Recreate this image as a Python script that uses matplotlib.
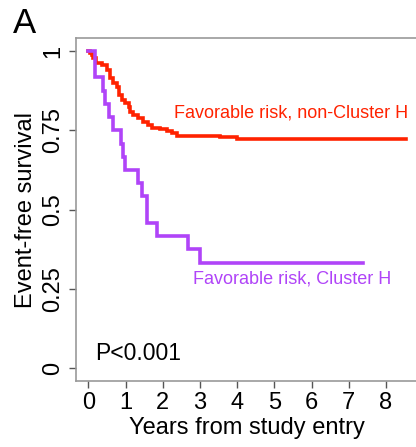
import matplotlib
matplotlib.use('Agg')
import matplotlib.pyplot as plt

FSIZE = 17

# Kaplan-Meier curves (step, post)
t_other = [0, 0.05, 0.09, 0.13, 0.21, 0.36, 0.49, 0.58, 0.67, 0.76, 0.83, 0.90, 0.99,
           1.08, 1.12, 1.21, 1.34, 1.48, 1.61, 1.70, 1.93, 2.11, 2.24, 2.38, 3.54, 3.99, 8.55]
s_other = [1.0, 0.993, 0.987, 0.977, 0.963, 0.956, 0.940, 0.914, 0.900, 0.887, 0.861, 0.846, 0.837,
           0.823, 0.809, 0.798, 0.788, 0.777, 0.767, 0.756, 0.753, 0.748, 0.741, 0.732, 0.728, 0.723, 0.723]

t_clusterh = [0, 0.18, 0.40, 0.45, 0.56, 0.67, 0.88, 0.94, 0.99, 1.34, 1.44, 1.57, 1.84, 2.69, 3.00, 7.39]
s_clusterh = [1.0, 0.917, 0.875, 0.833, 0.792, 0.75, 0.708, 0.667, 0.625, 0.583, 0.542, 0.458,
              0.417, 0.375, 0.333, 0.333]

xticks = [0, 1, 2, 3, 4, 5, 6, 7, 8]
yticks = [0, 0.25, 0.5, 0.75, 1]
ytick_labels = ['0', '0.25', '0.5', '0.75', '1']

RED = '#ff2200'
PURPLE = '#b044f8'

plt.rc('font', family=['Liberation Sans', 'DejaVu Sans'])

fig = plt.figure(figsize=(4.16, 4.47), dpi=100)
ax = fig.add_axes([0.182, 0.1477, 0.821, 0.7666])

ax.step(t_other, s_other, where='post', color=RED, lw=2.6, solid_joinstyle='miter')
ax.step(t_clusterh, s_clusterh, where='post', color=PURPLE, lw=2.6, solid_joinstyle='miter')

ax.text(2.30, 0.805, 'Favorable risk, non-Cluster H', color=RED, fontsize=13, va='center', ha='left')
ax.text(2.81, 0.281, 'Favorable risk, Cluster H', color=PURPLE, fontsize=13, va='center', ha='left')
ax.text(0.18, 0.048, 'P<0.001', color='black', fontsize=16.5, va='center', ha='left')

ax.set_xlim(-0.34, 8.84)
ax.set_ylim(-0.04, 1.04)
ax.set_xticks(xticks)
ax.set_xticklabels([str(x) for x in xticks], fontsize=FSIZE)
ax.set_yticks(yticks)
ax.set_yticklabels(ytick_labels, fontsize=FSIZE, rotation=90, va='center')
ax.tick_params(axis='both', length=5, width=1, color='#555555', pad=3)
for sp in ax.spines.values():
  sp.set_color('#999999')
  sp.set_linewidth(1.2)
ax.set_xlabel('Years from study entry', fontsize=FSIZE, labelpad=2)
ax.set_ylabel('Event-free survival', fontsize=FSIZE, labelpad=4)

fig.text(0.032, 0.985, 'A', fontsize=25, va='top', ha='left')

fig.savefig('out.png', dpi=100)
